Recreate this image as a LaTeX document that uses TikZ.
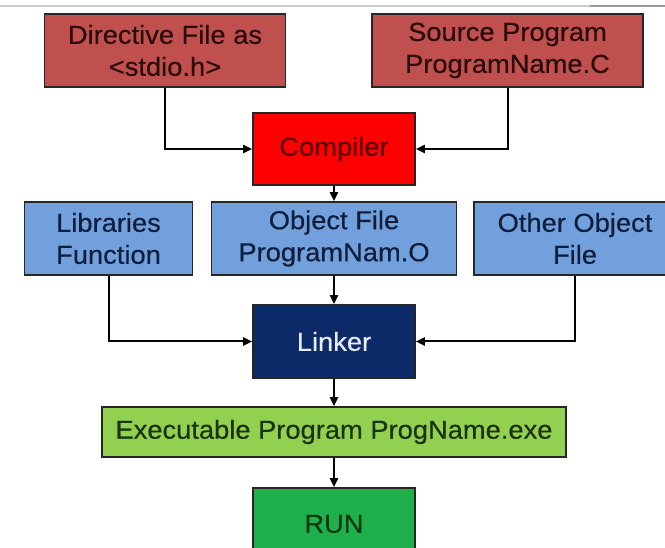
\documentclass[tikz,border=0pt]{standalone}
\usepackage{fontspec}
\setmainfont{Liberation Sans}[FakeStretch=1.05,FakeBold=0.4]
\usetikzlibrary{arrows.meta}
\definecolor{redbox}{HTML}{C0504D}
\definecolor{redtxt}{HTML}{2B0C0B}
\definecolor{compfill}{HTML}{FF0000}
\definecolor{comptxt}{HTML}{5C0000}
\definecolor{bluebox}{HTML}{71A0DC}
\definecolor{bluetxt}{HTML}{0E1E3C}
\definecolor{linkfill}{HTML}{0C2A68}
\definecolor{linktxt}{HTML}{E6ECF5}
\definecolor{execfill}{HTML}{92D050}
\definecolor{exectxt}{HTML}{1B3311}
\definecolor{runfill}{HTML}{1FB04C}
\definecolor{runtxt}{HTML}{0A3A15}
\definecolor{bordercol}{HTML}{262626}
\tikzset{
  box/.style={draw=bordercol, line width=1.6pt, rectangle, inner sep=0pt, align=center,
    font=\fontsize{26}{32}\selectfont},
  conn/.style={draw=black, line width=2pt, -{Triangle[length=9pt,width=8pt]}},
}
\begin{document}
\begin{tikzpicture}[x=1pt,y=-1pt]
\useasboundingbox (0,0) rectangle (665,548);
\clip (0,0) rectangle (665,548);
\fill[white] (0,0) rectangle (665,548);
\draw[line width=1.3pt, color=black!20] (0,6) -- (590,6);
\draw[line width=1.3pt, color=black!40] (590,6) -- (665,6);

\node[box, fill=redbox, text=redtxt, minimum width=241pt, minimum height=73pt] (dir) at (165,50.5) {Directive File as\\<stdio.h>};
\node[box, fill=redbox, text=redtxt, minimum width=271pt, minimum height=73pt] (src) at (507.5,50.5) {Source Program\\ProgramName.C};
\node[box, fill=compfill, text=comptxt, minimum width=162pt, minimum height=72pt] (comp) at (334,149) {Compiler};

\node[box, fill=bluebox, text=bluetxt, minimum width=168pt, minimum height=73pt] (lib) at (108.5,238.5) {Libraries\\Function};
\node[box, fill=bluebox, text=bluetxt, minimum width=245pt, minimum height=73pt] (obj) at (334,238.5) {Object File\\ProgramNam.O};
\node[box, fill=bluebox, text=bluetxt, minimum width=202pt, minimum height=73pt] (oth) at (575,238.5) {Other Object\\File};

\node[box, fill=linkfill, text=linktxt, minimum width=162pt, minimum height=73pt] (link) at (334,341.5) {Linker};
\node[box, fill=execfill, text=exectxt, minimum width=464pt, minimum height=50pt] (exe) at (334,432) {Executable Program ProgName.exe};
\node[box, fill=runfill, text=runtxt, minimum width=162pt, minimum height=72pt] (run) at (334,524) {RUN};

\draw[conn] (dir.south) |- (comp.west);
\draw[conn] (src.south) |- (comp.east);
\draw[conn] (comp.south) -- (obj.north);
\draw[conn] (lib.south) |- (link.west);
\draw[conn] (oth.south) |- (link.east);
\draw[conn] (obj.south) -- (link.north);
\draw[conn] (link.south) -- (exe.north);
\draw[conn] (exe.south) -- (run.north);
\end{tikzpicture}
\end{document}
